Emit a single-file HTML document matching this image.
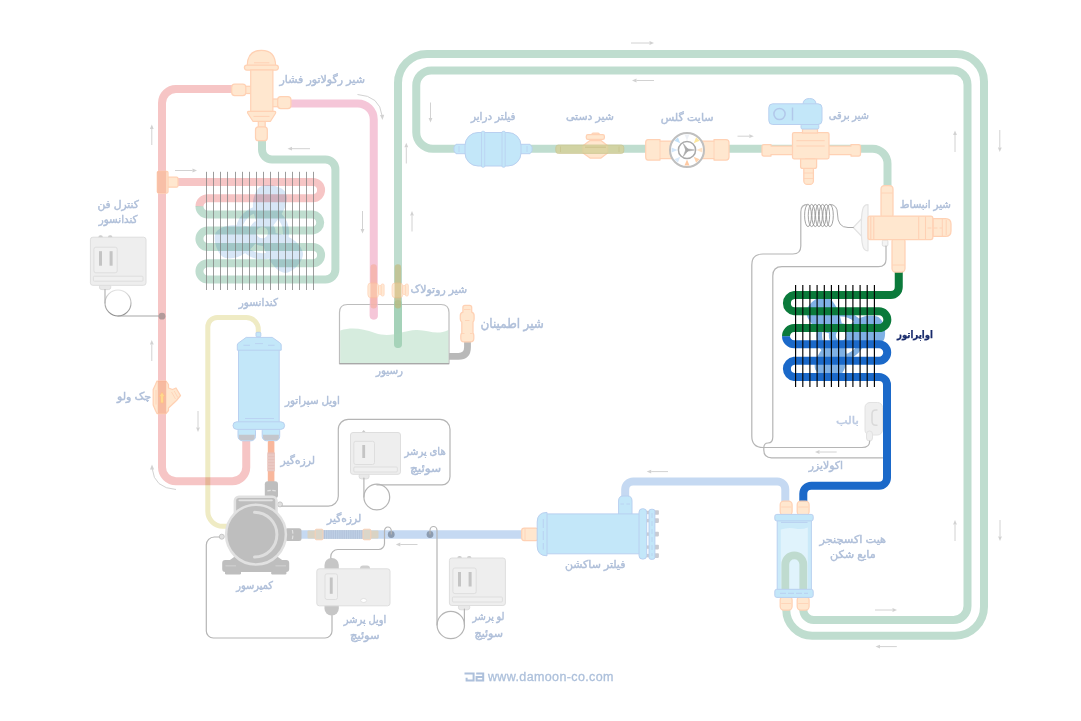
<!DOCTYPE html>
<html lang="fa">
<head>
<meta charset="utf-8">
<title>Refrigeration cycle</title>
<style>
html,body{margin:0;padding:0;background:#fff;}
body{width:1081px;height:721px;overflow:hidden;font-family:"Liberation Sans","DejaVu Sans",sans-serif;}
svg{display:block;}
svg text{font-family:"Liberation Sans","DejaVu Sans",sans-serif;}
</style>
</head>
<body>
<svg width="1081" height="721" viewBox="0 0 1081 721">
<g transform="translate(262.3,232.6) scale(0.95)" fill="#d7e6f6"><path transform="rotate(-75)" d="M10,-9 C20,-17 33,-21 44,-16 C52,-12 53,7 47,13 C39,20 22,15 10,9 Z"/><path transform="rotate(165)" d="M10,-9 C20,-17 33,-21 44,-16 C52,-12 53,7 47,13 C39,20 22,15 10,9 Z"/><path transform="rotate(45)" d="M10,-9 C20,-17 33,-21 44,-16 C52,-12 53,7 47,13 C39,20 22,15 10,9 Z"/><circle r="25" fill="none" stroke="#d7e6f6" stroke-width="6.5"/><circle r="10" fill="none" stroke="#d7e6f6" stroke-width="8"/><path transform="rotate(15)" d="M10,-3 H24 V3 H10 Z"/><path transform="rotate(135)" d="M10,-3 H24 V3 H10 Z"/><path transform="rotate(255)" d="M10,-3 H24 V3 H10 Z"/></g>
<path d="M398.00,344.00 L398.00,83.00 A29.00,29.00 0 0 1 427.00,54.00 L956.50,54.00 A27.50,27.50 0 0 1 984.00,81.50 L984.00,606.75 A29.00,29.00 0 0 1 955.00,635.75 L812.25,635.75 A26.00,26.00 0 0 1 786.25,609.75 L786.25,609.00" fill="none" stroke="#bfddcf" stroke-width="8" stroke-linecap="round" stroke-linejoin="round" />
<path d="M803.25,609.00 L803.25,609.50 A10.50,10.50 0 0 0 813.75,620.00 L953.50,620.00 A14.00,14.00 0 0 0 967.50,606.00 L967.50,84.80 A14.30,14.30 0 0 0 953.20,70.50 L431.25,70.50 A15.00,15.00 0 0 0 416.25,85.50 L416.25,132.25 A16.50,16.50 0 0 0 432.75,148.75 L872.50,148.75 A15.00,15.00 0 0 1 887.50,163.75 L887.50,187.00" fill="none" stroke="#bfddcf" stroke-width="8" stroke-linecap="butt" stroke-linejoin="round" />
<path d="M246.25,441.00 L246.25,467.25 A14.00,14.00 0 0 1 232.25,481.25 L176.00,481.25 A14.00,14.00 0 0 1 162.00,467.25 L162.00,103.00 A14.00,14.00 0 0 1 176.00,89.00 L233.00,89.00" fill="none" stroke="#f6c5c5" stroke-width="8" stroke-linecap="butt" stroke-linejoin="round" />
<path d="M170,182 H313.0 A8.10,8.10 0 0 1 313.0,198.2 H207.6 A8.10,8.10 0 0 0 199.50,206.35" fill="none" stroke="#f6c5c5" stroke-width="8" stroke-linecap="butt" stroke-linejoin="round" style="mix-blend-mode:multiply"/>
<path d="M199.50,206.05 A8.10,8.10 0 0 0 207.6,214.5 H313.0 A8.10,8.10 0 0 1 313.0,230.6 H207.6 A8.10,8.10 0 0 0 207.6,247.0 H313.0 A8.10,8.10 0 0 1 313.0,263.2 H207.6 A8.10,8.10 0 0 0 207.6,279.5 L207.60,279.50 L325.40,279.50 A10.00,10.00 0 0 0 335.40,269.50 L335.40,169.50 A10.00,10.00 0 0 0 325.40,159.50 L272.00,159.50 A10.00,10.00 0 0 1 262.00,149.50 L262.00,139.00" fill="none" stroke="#bfddcf" stroke-width="8" stroke-linecap="butt" stroke-linejoin="round" style="mix-blend-mode:multiply"/>
<g stroke="#7c7c7c" stroke-width="0.75"><line x1="206.5" y1="171.8" x2="206.5" y2="290"/><line x1="213.5" y1="171.8" x2="213.5" y2="290"/><line x1="220.5" y1="171.8" x2="220.5" y2="290"/><line x1="227.5" y1="171.8" x2="227.5" y2="290"/><line x1="235.5" y1="171.8" x2="235.5" y2="290"/><line x1="242.5" y1="171.8" x2="242.5" y2="290"/><line x1="249.5" y1="171.8" x2="249.5" y2="290"/><line x1="256.5" y1="171.8" x2="256.5" y2="290"/><line x1="263.5" y1="171.8" x2="263.5" y2="290"/><line x1="270.5" y1="171.8" x2="270.5" y2="290"/><line x1="278.5" y1="171.8" x2="278.5" y2="290"/><line x1="285.5" y1="171.8" x2="285.5" y2="290"/><line x1="292.5" y1="171.8" x2="292.5" y2="290"/><line x1="299.5" y1="171.8" x2="299.5" y2="290"/><line x1="306.5" y1="171.8" x2="306.5" y2="290"/><line x1="313.5" y1="171.8" x2="313.5" y2="290"/></g>
<path d="M290.00,103.40 L357.75,103.40 A16.00,16.00 0 0 1 373.75,119.40 L373.75,315.60" fill="none" stroke="#f5c6d8" stroke-width="8" stroke-linecap="round" stroke-linejoin="round" />
<path d="M258.30,334.00 L258.30,329.50 A12.00,12.00 0 0 0 246.30,317.50 L217.30,317.50 A9.50,9.50 0 0 0 207.80,327.00 L207.80,511.30 A15.00,15.00 0 0 0 222.80,526.30 L230.00,526.30" fill="none" stroke="#efebc4" stroke-width="5" stroke-linecap="butt" stroke-linejoin="round" style="mix-blend-mode:multiply"/>
<path d="M300,534.5 H523" fill="none" stroke="#c5d9f2" stroke-width="8.5" stroke-linecap="butt" stroke-linejoin="round" />
<path d="M625.20,498.00 L625.20,489.40 A8.00,8.00 0 0 1 633.20,481.40 L777.30,481.40 A8.00,8.00 0 0 1 785.30,489.40 L785.30,502.00" fill="none" stroke="#c5d9f2" stroke-width="8" stroke-linecap="butt" stroke-linejoin="round" />
<g transform="translate(841,335.5) scale(0.87)" fill="#7fb1e5"><path transform="rotate(-128)" d="M10,-9 C20,-17 33,-21 44,-16 C52,-12 53,7 47,13 C39,20 22,15 10,9 Z"/><path transform="rotate(-8)" d="M10,-9 C20,-17 33,-21 44,-16 C52,-12 53,7 47,13 C39,20 22,15 10,9 Z"/><path transform="rotate(112)" d="M10,-9 C20,-17 33,-21 44,-16 C52,-12 53,7 47,13 C39,20 22,15 10,9 Z"/><circle r="25" fill="none" stroke="#7fb1e5" stroke-width="6.5"/><circle r="10" fill="none" stroke="#7fb1e5" stroke-width="8"/><path transform="rotate(15)" d="M10,-3 H24 V3 H10 Z"/><path transform="rotate(135)" d="M10,-3 H24 V3 H10 Z"/><path transform="rotate(255)" d="M10,-3 H24 V3 H10 Z"/></g>
<path d="M898.75,271.00 L898.75,287.00 A8.00,8.00 0 0 1 890.75,295.00 L794.20,295.00 A8.20,8.20 0 0 0 794.2,311.3 H879.0 A8.20,8.20 0 0 1 879.0,328.0 H794.2 A8.20,8.20 0 0 0 786.00,336.45" fill="none" stroke="#0b7a3b" stroke-width="8" stroke-linecap="butt" stroke-linejoin="round" />
<path d="M786.00,336.15 A8.20,8.20 0 0 0 794.2,344.3 H879.0 A8.20,8.20 0 0 1 879.0,360.7 H794.2 A8.20,8.20 0 0 0 794.2,377.0 L794.20,377.00 L879.00,377.00 A8.00,8.00 0 0 1 887.00,385.00 L887.00,477.80 A8.00,8.00 0 0 1 879.00,485.80 L811.30,485.80 A8.00,8.00 0 0 0 803.30,493.80 L803.30,502.00" fill="none" stroke="#1b69c9" stroke-width="8" stroke-linecap="butt" stroke-linejoin="round" />
<g stroke="#000" stroke-width="1.15"><line x1="795.6" y1="285" x2="795.6" y2="387"/><line x1="802.8" y1="285" x2="802.8" y2="387"/><line x1="809.9" y1="285" x2="809.9" y2="387"/><line x1="817.1" y1="285" x2="817.1" y2="387"/><line x1="824.3" y1="285" x2="824.3" y2="387"/><line x1="831.4" y1="285" x2="831.4" y2="387"/><line x1="838.6" y1="285" x2="838.6" y2="387"/><line x1="845.8" y1="285" x2="845.8" y2="387"/><line x1="852.9" y1="285" x2="852.9" y2="387"/><line x1="860.1" y1="285" x2="860.1" y2="387"/><line x1="867.2" y1="285" x2="867.2" y2="387"/><line x1="874.4" y1="285" x2="874.4" y2="387"/></g>
<rect x="244.00" y="86.30" width="8.00" height="7.20" rx="0.00" fill="#ffe7cf" stroke="#ffd1b4" stroke-width="1.25" />
<rect x="231.70" y="84.20" width="14.10" height="11.40" rx="3.00" fill="#ffe7cf" stroke="#ffd1b4" stroke-width="1.25" />
<rect x="271.50" y="99.00" width="7.00" height="7.70" rx="0.00" fill="#ffe7cf" stroke="#ffd1b4" stroke-width="1.25" />
<rect x="277.70" y="96.60" width="13.20" height="11.90" rx="3.00" fill="#ffe7cf" stroke="#ffd1b4" stroke-width="1.25" />
<rect x="258.30" y="120.00" width="6.90" height="8.00" rx="0.00" fill="#ffe7cf" stroke="#ffd1b4" stroke-width="1.25" />
<rect x="255.50" y="126.80" width="11.80" height="13.90" rx="3.00" fill="#ffe7cf" stroke="#ffd1b4" stroke-width="1.25" />
<path d="M247.2,66 Q247.2,50.3 261.4,50.3 Q275.6,50.3 275.6,66 Z" fill="#ffe7cf" stroke="#ffd1b4" stroke-width="1.2" stroke-linejoin="round" />
<line x1="254.00" y1="62.80" x2="269.40" y2="62.80" stroke="#ffd1b4" stroke-width="1" />
<rect x="244.40" y="65.10" width="34.00" height="5.00" rx="2.50" fill="#ffe7cf" stroke="#ffd1b4" stroke-width="1.2" />
<rect x="250.70" y="70.00" width="22.20" height="41.50" rx="0.00" fill="#ffe7cf" stroke="#ffd1b4" stroke-width="1.2" />
<path d="M248.5,111.3 H274.6 Q276.2,111.3 275.4,113.5 L270.5,121.3 H252.9 L247.9,113.5 Q247,111.3 248.5,111.3 Z" fill="#ffe7cf" stroke="#ffd1b4" stroke-width="1.2" stroke-linejoin="round" />
<line x1="253.50" y1="116.40" x2="269.50" y2="116.40" stroke="#ffd1b4" stroke-width="1" />
<rect x="166.00" y="177.20" width="12.00" height="10.00" rx="1.50" fill="#ffe7cf" stroke="#ffd1b4" stroke-width="1.25" />
<rect x="157.30" y="171.30" width="10.70" height="21.70" rx="1.20" fill="#ffe7cf" stroke="#ffd1b4" stroke-width="1.25" />
<rect x="157.30" y="171.30" width="9.00" height="21.70" rx="1.00" fill="#f6b59c"  opacity="0.8"/>
<path d="M454,147 L456,144.3 H466 V153.7 H456 L454,151 Z" fill="#c3e7f9" stroke="#b9d0f0" stroke-width="1" stroke-linejoin="round" />
<path d="M532,147 L530,144.3 H520 V153.7 H530 L532,151 Z" fill="#c3e7f9" stroke="#b9d0f0" stroke-width="1" stroke-linejoin="round" />
<line x1="459.00" y1="146.00" x2="459.00" y2="152.00" stroke="#b9d0f0" stroke-width="0.8" />
<line x1="527.00" y1="146.00" x2="527.00" y2="152.00" stroke="#b9d0f0" stroke-width="0.8" />
<rect x="465.00" y="132.50" width="56.00" height="33.50" rx="13.00" fill="#c3e7f9" stroke="#b9d0f0" stroke-width="1" />
<rect x="481.50" y="131.30" width="3.20" height="35.90" rx="1.00" fill="#c3e7f9" stroke="#b9d0f0" stroke-width="0.8" />
<rect x="502.00" y="131.30" width="3.20" height="35.90" rx="1.00" fill="#c3e7f9" stroke="#b9d0f0" stroke-width="0.8" />
<rect x="592.00" y="133.00" width="7.20" height="8.50" rx="1.00" fill="#ffe7cf" stroke="#ffd1b4" stroke-width="1.25" />
<rect x="586.30" y="134.60" width="18.10" height="4.80" rx="1.60" fill="#ffe7cf" stroke="#ffd1b4" stroke-width="1.25" />
<path d="M583,145.8 L590,140.6 H601 L607.6,145.8 V153 L601,158 H590 L583,153 Z" fill="#ffe7cf" stroke="#ffd1b4" stroke-width="1.25" stroke-linejoin="round" />
<rect x="555.80" y="145.00" width="68.00" height="8.40" rx="2.50" fill="#d6d19a" stroke="#c8c48e" stroke-width="0.9" opacity="0.82"/>
<line x1="585.00" y1="147.20" x2="606.00" y2="147.20" stroke="#c9c08a" stroke-width="0.9" />
<line x1="560.50" y1="146.50" x2="560.50" y2="152.00" stroke="#c8c48e" stroke-width="0.8" />
<line x1="619.00" y1="146.50" x2="619.00" y2="152.00" stroke="#c8c48e" stroke-width="0.8" />
<path d="M648,139.5 H660 V141 H714 V139.5 H726 Q729,139.5 729,142.5 V157 Q729,160 726,160 H714 V158.5 H660 V160 H648 Q645.7,160 645.7,157 V142.5 Q645.7,139.5 648,139.5 Z" fill="#ffe7cf" stroke="#ffd1b4" stroke-width="1.25" stroke-linejoin="round" />
<line x1="660.00" y1="141.00" x2="660.00" y2="158.50" stroke="#ffd1b4" stroke-width="0.8" />
<line x1="714.00" y1="141.00" x2="714.00" y2="158.50" stroke="#ffd1b4" stroke-width="0.8" />
<circle cx="687.00" cy="150.00" r="17.00" fill="#fff" stroke="#bfbfbf" stroke-width="2" />
<path d="M684.51,134.60 L689.49,134.60 L687.00,140.50 Z" fill="#eef1f6"  />
<path d="M696.13,137.35 L699.65,140.87 L693.72,143.28 Z" fill="#fde79e"  />
<path d="M702.40,147.51 L702.40,152.49 L696.50,150.00 Z" fill="#ffe3c6"  />
<path d="M699.65,159.13 L696.13,162.65 L693.72,156.72 Z" fill="#ffd2ac"  />
<path d="M689.49,165.40 L684.51,165.40 L687.00,159.50 Z" fill="#ffc9a2"  />
<path d="M677.87,162.65 L674.35,159.13 L680.28,156.72 Z" fill="#dbeaf9"  />
<path d="M671.60,152.49 L671.60,147.51 L677.50,150.00 Z" fill="#d3e6f9"  />
<path d="M674.35,140.87 L677.87,137.35 L680.28,143.28 Z" fill="#c3e1f8"  />
<circle cx="687.00" cy="150.00" r="8.60" fill="#fff" stroke="#a9a9a9" stroke-width="1.5" />
<path d="M687.00,151.30 L687.00,148.70 L694.60,150.00 Z" fill="#a9a9a9" stroke="#a9a9a9" stroke-width="0.5" stroke-linejoin="round" />
<path d="M685.87,149.35 L688.13,150.65 L683.20,156.58 Z" fill="#a9a9a9" stroke="#a9a9a9" stroke-width="0.5" stroke-linejoin="round" />
<path d="M688.13,149.35 L685.87,150.65 L683.20,143.42 Z" fill="#a9a9a9" stroke="#a9a9a9" stroke-width="0.5" stroke-linejoin="round" />
<path d="M764,144.5 H771 V146 H851 V144.5 H858.5 Q860.5,144.5 860.5,146.5 V154 Q860.5,156 858.5,156 H851 V154.5 H771 V156 H764 Q762,156 762,154 V146.5 Q762,144.5 764,144.5 Z" fill="#ffe7cf" stroke="#ffd1b4" stroke-width="1.25" stroke-linejoin="round" />
<rect x="803.80" y="165.00" width="9.60" height="19.40" rx="3.50" fill="#ffe7cf" stroke="#ffd1b4" stroke-width="1.25" />
<line x1="803.80" y1="173.00" x2="813.40" y2="173.00" stroke="#ffd1b4" stroke-width="0.8" />
<line x1="803.80" y1="178.50" x2="813.40" y2="178.50" stroke="#ffd1b4" stroke-width="0.8" />
<rect x="800.60" y="156.00" width="16.00" height="12.40" rx="2.00" fill="#ffe7cf" stroke="#ffd1b4" stroke-width="1.25" />
<rect x="792.50" y="132.50" width="36.50" height="26.30" rx="1.50" fill="#ffe7cf" stroke="#ffd1b4" stroke-width="1.25" />
<rect x="802.50" y="128.50" width="15.00" height="4.50" rx="0.00" fill="#ffe7cf" stroke="#ffd1b4" stroke-width="1.25" />
<line x1="796.40" y1="140.70" x2="824.70" y2="140.70" stroke="#ffd1b4" stroke-width="1" />
<line x1="796.40" y1="146.00" x2="824.70" y2="146.00" stroke="#ffd1b4" stroke-width="1" />
<line x1="805.00" y1="158.50" x2="815.50" y2="158.50" stroke="#ffd1b4" stroke-width="0.9" />
<path d="M803,104.5 Q803,98.5 809.5,98.5 Q816,98.5 816,104.5 Z" fill="#c3e7f9" stroke="#b9d0f0" stroke-width="1" stroke-linejoin="round" />
<rect x="801.00" y="124.00" width="17.80" height="5.00" rx="1.50" fill="#c3e7f9" stroke="#b9d0f0" stroke-width="1" />
<rect x="768.80" y="103.80" width="53.20" height="20.70" rx="4.00" fill="#c3e7f9" stroke="#b9d0f0" stroke-width="1" />
<circle cx="779.50" cy="114.00" r="5.60" fill="none" stroke="#b2c8ea" stroke-width="1.5" />
<line x1="792.50" y1="107.50" x2="792.50" y2="120.50" stroke="#b2c8ea" stroke-width="1.5" />
<path d="M862.3,218 L853.3,227.5 L862.3,237 Z" fill="#fbfbfb" stroke="#e3e3e3" stroke-width="1.2" stroke-linejoin="round" />
<path d="M868,204.6 Q863.5,204.6 862.6,210 Q861.3,215 861.3,227.5 Q861.3,240 862.6,245 Q863.5,250.8 868,250.8 Z" fill="#f5f5f5" stroke="#e3e3e3" stroke-width="1.2" stroke-linejoin="round" />
<rect x="881.00" y="185.50" width="12.00" height="33.00" rx="3.50" fill="#ffe7cf" stroke="#ffd1b4" stroke-width="1.25" />
<line x1="881.50" y1="193.00" x2="892.50" y2="193.00" stroke="#ffd1b4" stroke-width="0.9" />
<rect x="892.00" y="238.00" width="13.00" height="34.00" rx="3.50" fill="#ffe7cf" stroke="#ffd1b4" stroke-width="1.25" />
<line x1="892.50" y1="265.00" x2="904.50" y2="265.00" stroke="#ffd1b4" stroke-width="0.9" />
<rect x="882.30" y="240.00" width="5.60" height="6.20" rx="1.50" fill="#f4f4f4" stroke="#dedede" stroke-width="1" />
<path d="M933,218.6 H945.5 Q951,218.6 951,224 V231 Q951,236.4 945.5,236.4 H933 Z" fill="#ffe7cf" stroke="#ffd1b4" stroke-width="1.25" stroke-linejoin="round" />
<rect x="868.00" y="216.00" width="64.80" height="23.50" rx="2.00" fill="#ffe7cf" stroke="#ffd1b4" stroke-width="1.25" />
<line x1="870.80" y1="216.50" x2="870.80" y2="239.00" stroke="#ffd1b4" stroke-width="1.1" />
<line x1="873.80" y1="216.50" x2="873.80" y2="239.00" stroke="#ffd1b4" stroke-width="1.1" />
<line x1="918.70" y1="216.50" x2="918.70" y2="239.00" stroke="#ffd1b4" stroke-width="1.1" />
<line x1="925.50" y1="216.50" x2="925.50" y2="239.00" stroke="#ffd1b4" stroke-width="1.1" />
<line x1="942.30" y1="219.00" x2="942.30" y2="236.00" stroke="#ffd1b4" stroke-width="1" />
<line x1="946.20" y1="220.00" x2="946.20" y2="235.00" stroke="#ffd1b4" stroke-width="1" />
<line x1="927.50" y1="228.00" x2="942.00" y2="228.00" stroke="#ffd1b4" stroke-width="1" stroke-dasharray="4 2"/>
<rect x="865.00" y="402.50" width="17.50" height="32.50" rx="5.00" fill="#efefef" stroke="#e2e2e2" stroke-width="1" />
<path d="M877.5,410 H875.8 Q872,410 872,414 V421.2 Q872,425.2 875.8,425.2 H877.5" fill="none" stroke="#d9d9d9" stroke-width="1.5" stroke-linejoin="round" />
<rect x="866.50" y="431.00" width="6.00" height="10.00" rx="3.00" fill="#efefef" stroke="#e2e2e2" stroke-width="1" />
<rect x="780.20" y="501.20" width="11.90" height="14.00" rx="3.50" fill="#ffe7cf" stroke="#ffd1b4" stroke-width="1.25" />
<rect x="780.20" y="596.50" width="11.90" height="13.50" rx="3.50" fill="#ffe7cf" stroke="#ffd1b4" stroke-width="1.25" />
<line x1="781.20" y1="507.00" x2="791.10" y2="507.00" stroke="#ffd1b4" stroke-width="0.8" />
<line x1="781.20" y1="603.50" x2="791.10" y2="603.50" stroke="#ffd1b4" stroke-width="0.8" />
<rect x="797.20" y="501.20" width="11.90" height="14.00" rx="3.50" fill="#ffe7cf" stroke="#ffd1b4" stroke-width="1.25" />
<rect x="797.20" y="596.50" width="11.90" height="13.50" rx="3.50" fill="#ffe7cf" stroke="#ffd1b4" stroke-width="1.25" />
<line x1="798.20" y1="507.00" x2="808.10" y2="507.00" stroke="#ffd1b4" stroke-width="0.8" />
<line x1="798.20" y1="603.50" x2="808.10" y2="603.50" stroke="#ffd1b4" stroke-width="0.8" />
<rect x="777.20" y="520.00" width="34.20" height="70.00" rx="1.00" fill="#cbeaf9" stroke="#b9d0f0" stroke-width="1" />
<path d="M780.8,529.6 Q788,527.2 795,528.6 T807.8,527.6 V589 H780.8 Z" fill="#e0f3fc"  />
<path d="M785.3,590 V564.4 A9,9 0 0 1 803.3,564.4 V590" fill="none" stroke="#bfdbcf" stroke-width="7.8"/>
<rect x="774.80" y="514.40" width="38.40" height="6.50" rx="2.00" fill="#c3e7f9" stroke="#b9d0f0" stroke-width="1" />
<rect x="774.80" y="589.30" width="38.40" height="8.10" rx="2.00" fill="#c3e7f9" stroke="#b9d0f0" stroke-width="1" />
<line x1="781.00" y1="522.40" x2="807.50" y2="522.40" stroke="#b9d0f0" stroke-width="1" />
<line x1="780.00" y1="593.30" x2="808.00" y2="593.30" stroke="#b9d0f0" stroke-width="1" stroke-dasharray="6 2"/>
<rect x="521.70" y="528.00" width="16.50" height="12.50" rx="2.50" fill="#ffe7cf" stroke="#ffd1b4" stroke-width="1.25" />
<line x1="525.00" y1="528.50" x2="525.00" y2="540.00" stroke="#ffd1b4" stroke-width="0.8" />
<path d="M618.6,514.5 V501 Q618.6,496 623,496 H627.6 Q632,496 632,501 V514.5 Z" fill="#c3e7f9" stroke="#b9d0f0" stroke-width="1" stroke-linejoin="round" />
<line x1="620.50" y1="504.00" x2="624.00" y2="504.00" stroke="#b9d0f0" stroke-width="0.9" />
<line x1="626.50" y1="504.00" x2="630.00" y2="504.00" stroke="#b9d0f0" stroke-width="0.9" />
<rect x="654.50" y="510.20" width="4.40" height="4.60" rx="0.80" fill="#c9cbd2"  />
<rect x="646.50" y="510.80" width="3.00" height="3.40" rx="0.00" fill="#c9cbd2"  />
<rect x="654.50" y="518.30" width="4.40" height="4.60" rx="0.80" fill="#c9cbd2"  />
<rect x="646.50" y="518.90" width="3.00" height="3.40" rx="0.00" fill="#c9cbd2"  />
<rect x="654.50" y="531.80" width="4.40" height="4.60" rx="0.80" fill="#c9cbd2"  />
<rect x="646.50" y="532.40" width="3.00" height="3.40" rx="0.00" fill="#c9cbd2"  />
<rect x="654.50" y="544.80" width="4.40" height="4.60" rx="0.80" fill="#c9cbd2"  />
<rect x="646.50" y="545.40" width="3.00" height="3.40" rx="0.00" fill="#c9cbd2"  />
<rect x="654.50" y="553.30" width="4.40" height="4.60" rx="0.80" fill="#c9cbd2"  />
<rect x="646.50" y="553.90" width="3.00" height="3.40" rx="0.00" fill="#c9cbd2"  />
<rect x="649.00" y="509.30" width="5.90" height="50.00" rx="2.00" fill="#c3e7f9" stroke="#b9d0f0" stroke-width="1" />
<rect x="545.00" y="513.90" width="95.00" height="39.90" rx="1.00" fill="#c3e7f9" stroke="#b9d0f0" stroke-width="1" />
<path d="M547,512.4 Q537.2,512.4 537.2,522 V546 Q537.2,555.8 547,555.8 Z" fill="#c3e7f9" stroke="#b9d0f0" stroke-width="1" stroke-linejoin="round" />
<line x1="543.30" y1="519.00" x2="543.30" y2="549.50" stroke="#b9d0f0" stroke-width="0.9" stroke-dasharray="9 3"/>
<rect x="639.00" y="508.70" width="7.70" height="50.40" rx="3.50" fill="#c3e7f9" stroke="#b9d0f0" stroke-width="1" />
<line x1="652.00" y1="513.00" x2="652.00" y2="556.00" stroke="#b9d0f0" stroke-width="0.8" stroke-dasharray="5 3"/>
<rect x="256.00" y="332.30" width="4.80" height="4.60" rx="1.00" fill="#c3e7f9" stroke="#b9d0f0" stroke-width="1" />
<rect x="238.00" y="426.00" width="17.50" height="14.80" rx="4.50" fill="#c3e7f9" stroke="#b9d0f0" stroke-width="1" />
<path d="M238.8,434.8 H254.7 V437 Q254.7,440.2 251.5,440.2 H242.0 Q238.8,440.2 238.8,437 Z" fill="#c4c6cc"  />
<rect x="262.20" y="426.00" width="17.50" height="14.80" rx="4.50" fill="#c3e7f9" stroke="#b9d0f0" stroke-width="1" />
<path d="M263.0,434.8 H278.9 V437 Q278.9,440.2 275.7,440.2 H266.2 Q263.0,440.2 263.0,437 Z" fill="#c4c6cc"  />
<rect x="238.50" y="346.00" width="40.70" height="77.00" rx="0.00" fill="#c3e7f9" stroke="#b9d0f0" stroke-width="1" />
<path d="M237.3,350.2 V345 Q237.3,343.6 239,342.6 L246.2,337.4 H272.3 L279.6,342.6 Q281.2,343.6 281.2,345 V350.2 Z" fill="#c3e7f9" stroke="#b9d0f0" stroke-width="1" stroke-linejoin="round" />
<line x1="255.00" y1="343.60" x2="263.00" y2="343.60" stroke="#b9d0f0" stroke-width="0.9" />
<line x1="243.50" y1="345.30" x2="250.00" y2="345.30" stroke="#b9d0f0" stroke-width="0.9" />
<line x1="268.00" y1="345.30" x2="274.50" y2="345.30" stroke="#b9d0f0" stroke-width="0.9" />
<line x1="245.00" y1="418.50" x2="274.00" y2="418.50" stroke="#b9d0f0" stroke-width="0.9" />
<rect x="233.00" y="421.80" width="51.60" height="7.60" rx="3.80" fill="#c3e7f9" stroke="#b9d0f0" stroke-width="1" />
<rect x="267.80" y="441.00" width="6.60" height="41.50" rx="1.00" fill="#f8b79c"  />
<rect x="267.40" y="452.50" width="7.40" height="18.80" rx="0.00" fill="#e6c0ba"  />
<path d="M267.4,455 h7.4 M267.4,458 h7.4 M267.4,461 h7.4 M267.4,464 h7.4 M267.4,467 h7.4 M267.4,470 h7.4" stroke="#eccfca" stroke-width="1" fill="none"/>
<path d="M157,381 H166 L168.5,384.5 V388 L172.5,389.5 L176,388 L180.5,395.5 L176.5,400.5 L168.5,408 V410.5 L166,413.5 H157 L155.5,410.5 L153.2,405 V389.5 L155.5,384.5 Z" fill="#ffe7cf" stroke="#ffd1b4" stroke-width="1.25" stroke-linejoin="round" />
<line x1="174.20" y1="391.00" x2="177.80" y2="397.50" stroke="#ffd1b4" stroke-width="0.8" />
<line x1="171.50" y1="392.00" x2="175.50" y2="399.00" stroke="#ffd1b4" stroke-width="0.8" />
<line x1="156.00" y1="390.00" x2="156.00" y2="404.50" stroke="#ffd1b4" stroke-width="0.8" />
<rect x="157.80" y="381.00" width="8.40" height="32.50" rx="0.00" fill="#f5ad92"  opacity="0.78"/>
<path d="M162,392 L165,396.5 H163.5 V403 H160.5 V396.5 H159 Z" fill="#ffd88c" stroke="#ffb98a" stroke-width="0.7" stroke-linejoin="round" />
<path d="M339.5,363.7 V312.5 Q339.5,304.5 347.5,304.5 H441 Q449,304.5 449,312.5 V363.7 Z" fill="none" stroke="#bdbdbd" stroke-width="1.2" stroke-linejoin="round" />
<path d="M340.2,330.5 C352,327 362,328.5 375,333 C392,338.5 402,330.5 416,330 C428,329.5 436,336 448.4,330 V363 H340.2 Z" fill="#c5e4d0"  opacity="0.7"/>
<line x1="339.50" y1="363.70" x2="449.00" y2="363.70" stroke="#a8a8a8" stroke-width="1.2" />
<path d="M373.75,304 V315.6" stroke="#f5c6d8" stroke-width="8" stroke-linecap="round" fill="none" opacity="0.7"/>
<path d="M398,304 V344" stroke="#9ccdb2" stroke-width="8" stroke-linecap="round" fill="none" opacity="0.75"/>
<rect x="367.90" y="283.00" width="10.60" height="14.70" rx="3.00" fill="#ffe7cf" stroke="#ffd1b4" stroke-width="0.9" opacity="0.85"/>
<rect x="378.50" y="285.50" width="3.40" height="9.00" rx="1.20" fill="#ffe7cf" stroke="#ffd1b4" stroke-width="0.9" opacity="0.85"/>
<rect x="381.10" y="284.00" width="3.00" height="12.00" rx="1.30" fill="#ffe7cf" stroke="#ffd1b4" stroke-width="0.9" opacity="0.85"/>
<rect x="370.50" y="264.20" width="6.40" height="44.20" rx="3.20" fill="#f5a58a"  opacity="0.5"/>
<rect x="392.10" y="283.00" width="10.60" height="14.70" rx="3.00" fill="#ffe7cf" stroke="#ffd1b4" stroke-width="0.9" opacity="0.85"/>
<rect x="402.70" y="285.50" width="3.40" height="9.00" rx="1.20" fill="#ffe7cf" stroke="#ffd1b4" stroke-width="0.9" opacity="0.85"/>
<rect x="405.30" y="284.00" width="3.00" height="12.00" rx="1.30" fill="#ffe7cf" stroke="#ffd1b4" stroke-width="0.9" opacity="0.85"/>
<rect x="394.70" y="264.20" width="6.40" height="44.20" rx="3.20" fill="#c4ad62"  opacity="0.5"/>
<path d="M449,356.3 H458.5 Q467.5,356.3 467.5,347.3 V341" fill="none" stroke="#b9b9b9" stroke-width="6.8"/>
<path d="M465,305.4 H469.6 Q471.7,305.4 471.7,307.5 V312.2 Q474.1,313 474.1,315.5 V319 Q474.1,321 473,322 V333 Q473.8,334 473.8,335.5 V338.5 Q473.8,341.8 470.5,341.8 H464.1 Q460.8,341.8 460.8,338.5 V335.5 Q460.8,334 461.8,333 V322 Q460.3,321 460.3,319 V315.5 Q460.3,313 462.9,312.2 V307.5 Q462.9,305.4 465,305.4 Z" fill="#ffe7cf" stroke="#ffd1b4" stroke-width="1.25" stroke-linejoin="round" />
<line x1="464.00" y1="309.50" x2="470.50" y2="309.50" stroke="#ffd1b4" stroke-width="0.8" />
<line x1="465.00" y1="320.50" x2="469.50" y2="320.50" stroke="#ffd1b4" stroke-width="0.9" />
<line x1="462.00" y1="333.50" x2="464.50" y2="333.50" stroke="#ffd1b4" stroke-width="0.8" />
<line x1="470.00" y1="333.50" x2="472.50" y2="333.50" stroke="#ffd1b4" stroke-width="0.8" />
<rect x="264.80" y="481.20" width="13.20" height="17.00" rx="3.00" fill="#bebebe"  />
<line x1="267.30" y1="490.90" x2="270.80" y2="490.30" stroke="#e1e1e1" stroke-width="1.2" />
<line x1="272.30" y1="490.30" x2="275.80" y2="490.90" stroke="#e1e1e1" stroke-width="1.2" />
<rect x="285.00" y="528.20" width="16.50" height="12.80" rx="2.50" fill="#bebebe"  />
<line x1="292.40" y1="530.00" x2="292.90" y2="533.60" stroke="#e1e1e1" stroke-width="1.2" />
<line x1="292.90" y1="535.60" x2="292.40" y2="539.20" stroke="#e1e1e1" stroke-width="1.2" />
<circle cx="280.00" cy="504.40" r="2.50" fill="#e1e1e1" stroke="#c2c2c2" stroke-width="0.9" />
<circle cx="221.80" cy="536.70" r="2.50" fill="#e1e1e1" stroke="#c2c2c2" stroke-width="0.9" />
<rect x="234.90" y="496.70" width="41.60" height="24.00" rx="4.00" fill="#bebebe" stroke="#e1e1e1" stroke-width="2.5" />
<rect x="238.50" y="499.40" width="34.30" height="1.80" rx="0.90" fill="#e1e1e1"  />
<path d="M237,555 L227,562 H285 L275,555 Z" fill="#bebebe"  />
<rect x="222.20" y="560.00" width="67.00" height="12.00" rx="3.00" fill="#bebebe"  />
<rect x="225.00" y="570.50" width="16.00" height="4.00" rx="1.20" fill="#bebebe"  />
<rect x="271.20" y="570.50" width="15.20" height="4.00" rx="1.20" fill="#bebebe"  />
<line x1="225.50" y1="565.80" x2="236.00" y2="565.80" stroke="#cfcfcf" stroke-width="1.2" />
<line x1="275.50" y1="565.80" x2="286.00" y2="565.80" stroke="#cfcfcf" stroke-width="1.2" />
<circle cx="256.00" cy="534.60" r="29.90" fill="#bebebe" stroke="#e1e1e1" stroke-width="2.5" />
<path d="M254.5,512.2 A22.4,22.4 0 0 1 254.5,557" fill="none" stroke="#dedede" stroke-width="3" stroke-linecap="round"/>
<rect x="307.50" y="530.50" width="71.00" height="8.00" rx="1.00" fill="#d9d3c4"  />
<rect x="323.00" y="530.20" width="40.00" height="8.60" rx="0.00" fill="#bfd0e6"  />
<g stroke="#aebfd8" stroke-width="0.8"><line x1="324.5" y1="530.2" x2="324.5" y2="538.8"/><line x1="326.7" y1="530.2" x2="326.7" y2="538.8"/><line x1="328.9" y1="530.2" x2="328.9" y2="538.8"/><line x1="331.1" y1="530.2" x2="331.1" y2="538.8"/><line x1="333.3" y1="530.2" x2="333.3" y2="538.8"/><line x1="335.5" y1="530.2" x2="335.5" y2="538.8"/><line x1="337.7" y1="530.2" x2="337.7" y2="538.8"/><line x1="339.9" y1="530.2" x2="339.9" y2="538.8"/><line x1="342.1" y1="530.2" x2="342.1" y2="538.8"/><line x1="344.3" y1="530.2" x2="344.3" y2="538.8"/><line x1="346.5" y1="530.2" x2="346.5" y2="538.8"/><line x1="348.7" y1="530.2" x2="348.7" y2="538.8"/><line x1="350.9" y1="530.2" x2="350.9" y2="538.8"/><line x1="353.1" y1="530.2" x2="353.1" y2="538.8"/><line x1="355.3" y1="530.2" x2="355.3" y2="538.8"/><line x1="357.5" y1="530.2" x2="357.5" y2="538.8"/><line x1="359.7" y1="530.2" x2="359.7" y2="538.8"/><line x1="361.9" y1="530.2" x2="361.9" y2="538.8"/></g>
<rect x="315.20" y="529.20" width="7.80" height="10.60" rx="1.20" fill="#dbd6c9" stroke="#fccfb3" stroke-width="0.9" />
<rect x="363.00" y="529.20" width="7.80" height="10.60" rx="1.20" fill="#dbd6c9" stroke="#fccfb3" stroke-width="0.9" />
<circle cx="391.25" cy="534.50" r="3.40" fill="#8d9cb0"  />
<circle cx="430.00" cy="534.50" r="3.40" fill="#8d9cb0"  />
<circle cx="162.00" cy="316.20" r="3.40" fill="#b39a9a"  />
<circle cx="100.60" cy="237.50" r="2.30" fill="#c9c9c9"  />
<circle cx="110.20" cy="237.50" r="2.30" fill="#c9c9c9"  />
<rect x="99.40" y="284.30" width="11.40" height="5.30" rx="2.50" fill="#e9e9e9" stroke="#dedede" stroke-width="1" />
<rect x="90.40" y="237.20" width="55.60" height="48.10" rx="2.50" fill="#eeeeee" stroke="#dedede" stroke-width="1" />
<rect x="93.90" y="247.20" width="23.30" height="25.60" rx="2.00" fill="#f0f0f0" stroke="#dedede" stroke-width="1" />
<rect x="99.00" y="251.20" width="3.00" height="14.50" rx="0.00" fill="#c4c4c4"  />
<rect x="109.60" y="251.20" width="3.00" height="14.50" rx="0.00" fill="#c4c4c4"  />
<rect x="93.40" y="276.20" width="49.60" height="5.00" rx="1.00" fill="#f0f0f0" stroke="#dedede" stroke-width="1" />
<circle cx="459.60" cy="558.30" r="2.30" fill="#c9c9c9"  />
<circle cx="469.20" cy="558.30" r="2.30" fill="#c9c9c9"  />
<rect x="458.40" y="604.50" width="11.40" height="5.30" rx="2.50" fill="#e9e9e9" stroke="#dedede" stroke-width="1" />
<rect x="449.40" y="558.00" width="56.00" height="47.50" rx="2.50" fill="#eeeeee" stroke="#dedede" stroke-width="1" />
<rect x="452.90" y="568.00" width="23.30" height="25.60" rx="2.00" fill="#f0f0f0" stroke="#dedede" stroke-width="1" />
<rect x="458.00" y="572.00" width="3.00" height="14.50" rx="0.00" fill="#c4c4c4"  />
<rect x="468.60" y="572.00" width="3.00" height="14.50" rx="0.00" fill="#c4c4c4"  />
<rect x="452.40" y="597.00" width="50.00" height="5.00" rx="1.00" fill="#f0f0f0" stroke="#dedede" stroke-width="1" />
<path d="M361.5,432.5 l2.2,-2.6 l2.2,2.6 Z" fill="#c9c9c9"  />
<rect x="359.10" y="473.30" width="10.00" height="5.60" rx="2.50" fill="#e9e9e9" stroke="#dedede" stroke-width="1" />
<rect x="350.50" y="432.50" width="50.00" height="41.80" rx="2.50" fill="#eeeeee" stroke="#dedede" stroke-width="1" />
<rect x="353.80" y="441.30" width="20.70" height="23.20" rx="2.00" fill="#f0f0f0" stroke="#dedede" stroke-width="1" />
<rect x="362.30" y="445.00" width="2.80" height="13.00" rx="0.00" fill="#c4c4c4"  />
<rect x="353.80" y="467.00" width="43.50" height="5.00" rx="1.00" fill="#f0f0f0" stroke="#dedede" stroke-width="1" />
<rect x="324.50" y="558.00" width="14.30" height="57.50" rx="7.00" fill="#c6c6c6"  />
<rect x="360.00" y="565.50" width="10.00" height="6.00" rx="3.00" fill="#cfcfcf"  />
<rect x="316.80" y="568.80" width="73.20" height="37.00" rx="2.50" fill="#eeeeee" stroke="#dedede" stroke-width="1" />
<rect x="325.00" y="573.80" width="12.50" height="25.70" rx="2.00" fill="#f0f0f0" stroke="#dedede" stroke-width="1" />
<rect x="329.80" y="577.50" width="2.90" height="16.30" rx="0.00" fill="#c4c4c4"  />
<ellipse cx="363.7" cy="600.5" rx="3" ry="2" fill="#fff" stroke="#dcdcdc" stroke-width="0.8"/>
<defs><linearGradient id="lg1" x1="0" y1="0" x2="0" y2="1"><stop offset="0" stop-color="#e2e2e2"/><stop offset="1" stop-color="#8a8a8a"/></linearGradient></defs>
<circle cx="118" cy="303" r="13" fill="none" stroke="url(#lg1)" stroke-width="1.1"/>
<path d="M105,289.5 V303" fill="none" stroke="#b5b5b5" stroke-width="1.2" stroke-linecap="round" />
<path d="M118,316 H159.5" fill="none" stroke="#a8a8a8" stroke-width="1.2" stroke-linecap="round" />
<circle cx="376.8" cy="497" r="12.9" fill="none" stroke="#b5b5b5" stroke-width="1.2"/>
<path d="M363.9,478 V497" fill="none" stroke="#b5b5b5" stroke-width="1.2" stroke-linecap="round" />
<path d="M376.80,484.80 L442.00,484.80 A8.00,8.00 0 0 0 450.00,476.80 L450.00,429.30 A10.00,10.00 0 0 0 440.00,419.30 L348.30,419.30 A10.00,10.00 0 0 0 338.30,429.30 L338.30,496.20 A10.00,10.00 0 0 1 328.30,506.20 L282.00,506.20" fill="none" stroke="#b5b5b5" stroke-width="1.2" stroke-linecap="round" />
<path d="M330.80,558.00 L330.80,556.50 A7.00,7.00 0 0 1 337.80,549.50 L378.50,549.50 A6.00,6.00 0 0 0 384.50,543.50 L384.50,531.00 A3.4,4 0 0 1 391.3,531 V534" fill="none" stroke="#b5b5b5" stroke-width="1.2" stroke-linecap="round" />
<path d="M219.5,537 L214.30,537.00 A8.00,8.00 0 0 0 206.30,545.00 L206.30,631.00 A7.00,7.00 0 0 0 213.30,638.00 L325.00,638.00 A7.00,7.00 0 0 0 332.00,631.00 L332.00,615.50" fill="none" stroke="#b5b5b5" stroke-width="1.2" stroke-linecap="round" />
<circle cx="450.8" cy="625" r="13.7" fill="none" stroke="#b5b5b5" stroke-width="1.2"/>
<path d="M430,534 V530.5 A3.5,4 0 0 1 437,530.5 V625" fill="none" stroke="#b5b5b5" stroke-width="1.2" stroke-linecap="round" />
<path d="M464.4,609 V625" fill="none" stroke="#b5b5b5" stroke-width="1.2" stroke-linecap="round" />
<ellipse cx="808.00" cy="215.5" rx="3.4" ry="11.1" fill="none" stroke="#8c8c8c" stroke-width="0.8"/><ellipse cx="811.65" cy="215.5" rx="3.4" ry="11.1" fill="none" stroke="#8c8c8c" stroke-width="0.8"/><ellipse cx="815.30" cy="215.5" rx="3.4" ry="11.1" fill="none" stroke="#8c8c8c" stroke-width="0.8"/><ellipse cx="818.95" cy="215.5" rx="3.4" ry="11.1" fill="none" stroke="#8c8c8c" stroke-width="0.8"/><ellipse cx="822.60" cy="215.5" rx="3.4" ry="11.1" fill="none" stroke="#8c8c8c" stroke-width="0.8"/><ellipse cx="826.25" cy="215.5" rx="3.4" ry="11.1" fill="none" stroke="#8c8c8c" stroke-width="0.8"/><ellipse cx="829.90" cy="215.5" rx="3.4" ry="11.1" fill="none" stroke="#8c8c8c" stroke-width="0.8"/>
<path d="M830,204.4 Q837.5,204.4 837.5,214 Q837.5,227.5 848,227.5 H853.3" fill="none" stroke="#a0a0a0" stroke-width="0.9" stroke-linecap="round" />
<path d="M808,204.4 Q800.8,204.4 800.8,212 V246 Q800.8,254 792.8,254 H763 Q751.8,254 751.8,265 V436 Q751.8,447.5 763,447.5 H862 Q869.7,447.5 869.7,441" fill="none" stroke="#b5b5b5" stroke-width="1.2" stroke-linecap="round" />
<path d="M886,246 V259.5 Q886,266.7 878.5,266.7 H782 Q772.8,266.7 772.8,276 V437 Q772.8,443 768,443 Q763.8,443 763.8,448 V450 Q763.8,457.8 771.5,457.8 H882.5" fill="none" stroke="#b5b5b5" stroke-width="1.2" stroke-linecap="round" />
<path d="M631.00,43.00 L649.50,43.00" stroke="#d2d2d2" stroke-width="1" fill="none"/>
<path d="M654.00,43.00 L649.50,44.90 L649.50,41.10 Z" fill="#d2d2d2"/>
<path d="M654.00,80.50 L636.50,80.50" stroke="#d2d2d2" stroke-width="1" fill="none"/>
<path d="M632.00,80.50 L636.50,78.60 L636.50,82.40 Z" fill="#d2d2d2"/>
<path d="M430.50,102.50 L430.50,118.00" stroke="#d2d2d2" stroke-width="1" fill="none"/>
<path d="M430.50,122.50 L428.60,118.00 L432.40,118.00 Z" fill="#d2d2d2"/>
<path d="M406.30,163.50 L406.30,147.30" stroke="#d2d2d2" stroke-width="1" fill="none"/>
<path d="M406.30,142.80 L408.20,147.30 L404.40,147.30 Z" fill="#d2d2d2"/>
<path d="M412.00,231.50 L412.00,215.50" stroke="#d2d2d2" stroke-width="1" fill="none"/>
<path d="M412.00,211.00 L413.90,215.50 L410.10,215.50 Z" fill="#d2d2d2"/>
<path d="M362.50,211.00 L362.50,229.00" stroke="#d2d2d2" stroke-width="1" fill="none"/>
<path d="M362.50,233.50 L360.60,229.00 L364.40,229.00 Z" fill="#d2d2d2"/>
<path d="M310.00,148.70 L292.00,148.70" stroke="#d2d2d2" stroke-width="1" fill="none"/>
<path d="M287.50,148.70 L292.00,146.80 L292.00,150.60 Z" fill="#d2d2d2"/>
<path d="M151.80,145.00 L151.80,129.00" stroke="#d2d2d2" stroke-width="1" fill="none"/>
<path d="M151.80,124.50 L153.70,129.00 L149.90,129.00 Z" fill="#d2d2d2"/>
<path d="M175.00,170.50 L192.50,170.50" stroke="#d2d2d2" stroke-width="1" fill="none"/>
<path d="M197.00,170.50 L192.50,172.40 L192.50,168.60 Z" fill="#d2d2d2"/>
<path d="M151.80,361.00 L151.80,344.50" stroke="#d2d2d2" stroke-width="1" fill="none"/>
<path d="M151.80,340.00 L153.70,344.50 L149.90,344.50 Z" fill="#d2d2d2"/>
<path d="M198.00,411.00 L198.00,427.50" stroke="#d2d2d2" stroke-width="1" fill="none"/>
<path d="M198.00,432.00 L196.10,427.50 L199.90,427.50 Z" fill="#d2d2d2"/>
<path d="M417.50,544.50 L400.30,544.50" stroke="#d2d2d2" stroke-width="1" fill="none"/>
<path d="M395.80,544.50 L400.30,542.60 L400.30,546.40 Z" fill="#d2d2d2"/>
<path d="M668.00,471.60 L651.20,471.60" stroke="#d2d2d2" stroke-width="1" fill="none"/>
<path d="M646.70,471.60 L651.20,469.70 L651.20,473.50 Z" fill="#d2d2d2"/>
<path d="M737.50,136.20 L749.30,136.20" stroke="#d2d2d2" stroke-width="1" fill="none"/>
<path d="M753.80,136.20 L749.30,138.10 L749.30,134.30 Z" fill="#d2d2d2"/>
<path d="M955.00,152.00 L955.00,135.00" stroke="#d2d2d2" stroke-width="1" fill="none"/>
<path d="M955.00,130.50 L956.90,135.00 L953.10,135.00 Z" fill="#d2d2d2"/>
<path d="M999.80,130.00 L999.80,147.50" stroke="#d2d2d2" stroke-width="1" fill="none"/>
<path d="M999.80,152.00 L997.90,147.50 L1001.70,147.50 Z" fill="#d2d2d2"/>
<path d="M955.00,541.00 L955.00,524.50" stroke="#d2d2d2" stroke-width="1" fill="none"/>
<path d="M955.00,520.00 L956.90,524.50 L953.10,524.50 Z" fill="#d2d2d2"/>
<path d="M1000.00,520.00 L1000.00,536.50" stroke="#d2d2d2" stroke-width="1" fill="none"/>
<path d="M1000.00,541.00 L998.10,536.50 L1001.90,536.50 Z" fill="#d2d2d2"/>
<path d="M875.00,610.00 L892.50,610.00" stroke="#d2d2d2" stroke-width="1" fill="none"/>
<path d="M897.00,610.00 L892.50,611.90 L892.50,608.10 Z" fill="#d2d2d2"/>
<path d="M896.80,646.60 L880.00,646.60" stroke="#d2d2d2" stroke-width="1" fill="none"/>
<path d="M875.50,646.60 L880.00,644.70 L880.00,648.50 Z" fill="#d2d2d2"/>
<path d="M836.70,452.00 L819.50,452.00" stroke="#d2d2d2" stroke-width="1" fill="none"/>
<path d="M815.00,452.00 L819.50,450.10 L819.50,453.90 Z" fill="#d2d2d2"/>
<path d="M357.5,94.5 Q380,96 382,115.5" fill="none" stroke="#d2d2d2" stroke-width="1"/>
<path d="M382.5,120 L380,115 L384.2,114.8 Z" fill="#d2d2d2"/>
<path d="M176,489.5 Q154,488 152.3,469" fill="none" stroke="#d2d2d2" stroke-width="1"/>
<path d="M152,464.5 L154.2,469.6 L150,469.4 Z" fill="#d2d2d2"/>
<text x="322.2" y="83.2" font-size="10.80"  fill="#afbfd9" stroke="#afbfd9" stroke-width="0.45" text-anchor="middle" direction="rtl" textLength="85.5" lengthAdjust="spacingAndGlyphs">شیر رگولاتور فشار</text>
<text x="493.2" y="119.7" font-size="10.80"  fill="#afbfd9" stroke="#afbfd9" stroke-width="0.45" text-anchor="middle" direction="rtl" textLength="44.5" lengthAdjust="spacingAndGlyphs">فیلتر درایر</text>
<text x="590.0" y="119.7" font-size="10.80"  fill="#afbfd9" stroke="#afbfd9" stroke-width="0.45" text-anchor="middle" direction="rtl" textLength="48.0" lengthAdjust="spacingAndGlyphs">شیر دستی</text>
<text x="687.2" y="120.7" font-size="10.80"  fill="#afbfd9" stroke="#afbfd9" stroke-width="0.45" text-anchor="middle" direction="rtl" textLength="53.0" lengthAdjust="spacingAndGlyphs">سایت گلس</text>
<text x="848.8" y="119.2" font-size="10.80"  fill="#afbfd9" stroke="#afbfd9" stroke-width="0.45" text-anchor="middle" direction="rtl" textLength="40.0" lengthAdjust="spacingAndGlyphs">شیر برقی</text>
<text x="925.5" y="207.7" font-size="10.80"  fill="#afbfd9" stroke="#afbfd9" stroke-width="0.45" text-anchor="middle" direction="rtl" textLength="51.0" lengthAdjust="spacingAndGlyphs">شیر انبساط</text>
<text x="915.0" y="337.7" font-size="10.80" font-weight="bold" fill="#182a6b" stroke="#182a6b" stroke-width="0.25" text-anchor="middle" direction="rtl" textLength="36.0" lengthAdjust="spacingAndGlyphs">اواپراتور</text>
<text x="847.5" y="423.7" font-size="10.80"  fill="#bccae2" stroke="#bccae2" stroke-width="0.45" text-anchor="middle" direction="rtl" textLength="23.0" lengthAdjust="spacingAndGlyphs">بالب</text>
<text x="825.9" y="469.2" font-size="10.80"  fill="#afbfd9" stroke="#afbfd9" stroke-width="0.45" text-anchor="middle" direction="rtl" textLength="34.3" lengthAdjust="spacingAndGlyphs">اکولایزر</text>
<text x="852.8" y="542.7" font-size="10.80"  fill="#afbfd9" stroke="#afbfd9" stroke-width="0.45" text-anchor="middle" direction="rtl" textLength="66.5" lengthAdjust="spacingAndGlyphs">هیت اکسچنجر</text>
<text x="852.9" y="558.2" font-size="10.80"  fill="#afbfd9" stroke="#afbfd9" stroke-width="0.45" text-anchor="middle" direction="rtl" textLength="45.8" lengthAdjust="spacingAndGlyphs">مایع شکن</text>
<text x="595.2" y="568.2" font-size="10.80"  fill="#afbfd9" stroke="#afbfd9" stroke-width="0.45" text-anchor="middle" direction="rtl" textLength="60.5" lengthAdjust="spacingAndGlyphs">فیلتر ساکشن</text>
<text x="488.5" y="620.2" font-size="10.80"  fill="#afbfd9" stroke="#afbfd9" stroke-width="0.45" text-anchor="middle" direction="rtl" textLength="32.0" lengthAdjust="spacingAndGlyphs">لو پرشر</text>
<text x="488.8" y="637.2" font-size="10.80"  fill="#afbfd9" stroke="#afbfd9" stroke-width="0.45" text-anchor="middle" direction="rtl" textLength="28.5" lengthAdjust="spacingAndGlyphs">سوئیچ</text>
<text x="365.0" y="622.7" font-size="10.80"  fill="#afbfd9" stroke="#afbfd9" stroke-width="0.45" text-anchor="middle" direction="rtl" textLength="42.5" lengthAdjust="spacingAndGlyphs">اویل پرشر</text>
<text x="364.8" y="638.5" font-size="10.80"  fill="#afbfd9" stroke="#afbfd9" stroke-width="0.45" text-anchor="middle" direction="rtl" textLength="29.5" lengthAdjust="spacingAndGlyphs">سوئیچ</text>
<text x="425.1" y="454.7" font-size="10.80"  fill="#afbfd9" stroke="#afbfd9" stroke-width="0.45" text-anchor="middle" direction="rtl" textLength="41.2" lengthAdjust="spacingAndGlyphs">های پرشر</text>
<text x="425.6" y="471.7" font-size="10.80"  fill="#afbfd9" stroke="#afbfd9" stroke-width="0.45" text-anchor="middle" direction="rtl" textLength="31.2" lengthAdjust="spacingAndGlyphs">سوئیچ</text>
<text x="344.1" y="522.0" font-size="10.80"  fill="#afbfd9" stroke="#afbfd9" stroke-width="0.45" text-anchor="middle" direction="rtl" textLength="34.2" lengthAdjust="spacingAndGlyphs">لرزه‌گیر</text>
<text x="297.8" y="463.7" font-size="10.80"  fill="#afbfd9" stroke="#afbfd9" stroke-width="0.45" text-anchor="middle" direction="rtl" textLength="34.5" lengthAdjust="spacingAndGlyphs">لرزه‌گیر</text>
<text x="254.6" y="589.2" font-size="10.80"  fill="#afbfd9" stroke="#afbfd9" stroke-width="0.45" text-anchor="middle" direction="rtl" textLength="36.8" lengthAdjust="spacingAndGlyphs">کمپرسور</text>
<text x="312.5" y="404.2" font-size="10.80"  fill="#afbfd9" stroke="#afbfd9" stroke-width="0.45" text-anchor="middle" direction="rtl" textLength="55.0" lengthAdjust="spacingAndGlyphs">اویل سپراتور</text>
<text x="134.0" y="399.7" font-size="10.80"  fill="#afbfd9" stroke="#afbfd9" stroke-width="0.45" text-anchor="middle" direction="rtl" textLength="34.0" lengthAdjust="spacingAndGlyphs">چک ولو</text>
<text x="118.2" y="207.7" font-size="10.80"  fill="#afbfd9" stroke="#afbfd9" stroke-width="0.45" text-anchor="middle" direction="rtl" textLength="41.5" lengthAdjust="spacingAndGlyphs">کنترل فن</text>
<text x="118.1" y="222.7" font-size="10.80"  fill="#afbfd9" stroke="#afbfd9" stroke-width="0.45" text-anchor="middle" direction="rtl" textLength="38.8" lengthAdjust="spacingAndGlyphs">کندانسور</text>
<text x="258.4" y="305.8" font-size="10.80"  fill="#afbfd9" stroke="#afbfd9" stroke-width="0.45" text-anchor="middle" direction="rtl" textLength="39.2" lengthAdjust="spacingAndGlyphs">کندانسور</text>
<text x="389.5" y="374.2" font-size="10.80"  fill="#afbfd9" stroke="#afbfd9" stroke-width="0.45" text-anchor="middle" direction="rtl" textLength="27.0" lengthAdjust="spacingAndGlyphs">رسیور</text>
<text x="438.8" y="292.7" font-size="10.80"  fill="#afbfd9" stroke="#afbfd9" stroke-width="0.45" text-anchor="middle" direction="rtl" textLength="56.5" lengthAdjust="spacingAndGlyphs">شیر روتولاک</text>
<text x="512.2" y="327.9" font-size="13.00"  fill="#afbfd9" stroke="#afbfd9" stroke-width="0.45" text-anchor="middle" direction="rtl" textLength="63.5" lengthAdjust="spacingAndGlyphs">شیر اطمینان</text>
<text x="550.9" y="680.6" font-size="12.5" letter-spacing="0.38" fill="#adc0db" stroke="#adc0db" stroke-width="0.3" text-anchor="middle">www.damoon-co.com</text>
<g fill="none" stroke="#adc0db" stroke-width="2"><path d="M464.5,673.6 H473.6 V680.4 H466.6 V677.8"/><path d="M476.2,673.6 H483.2 V680.4 H476.6 V677.1 H483.2"/></g>
</svg>
</body>
</html>
